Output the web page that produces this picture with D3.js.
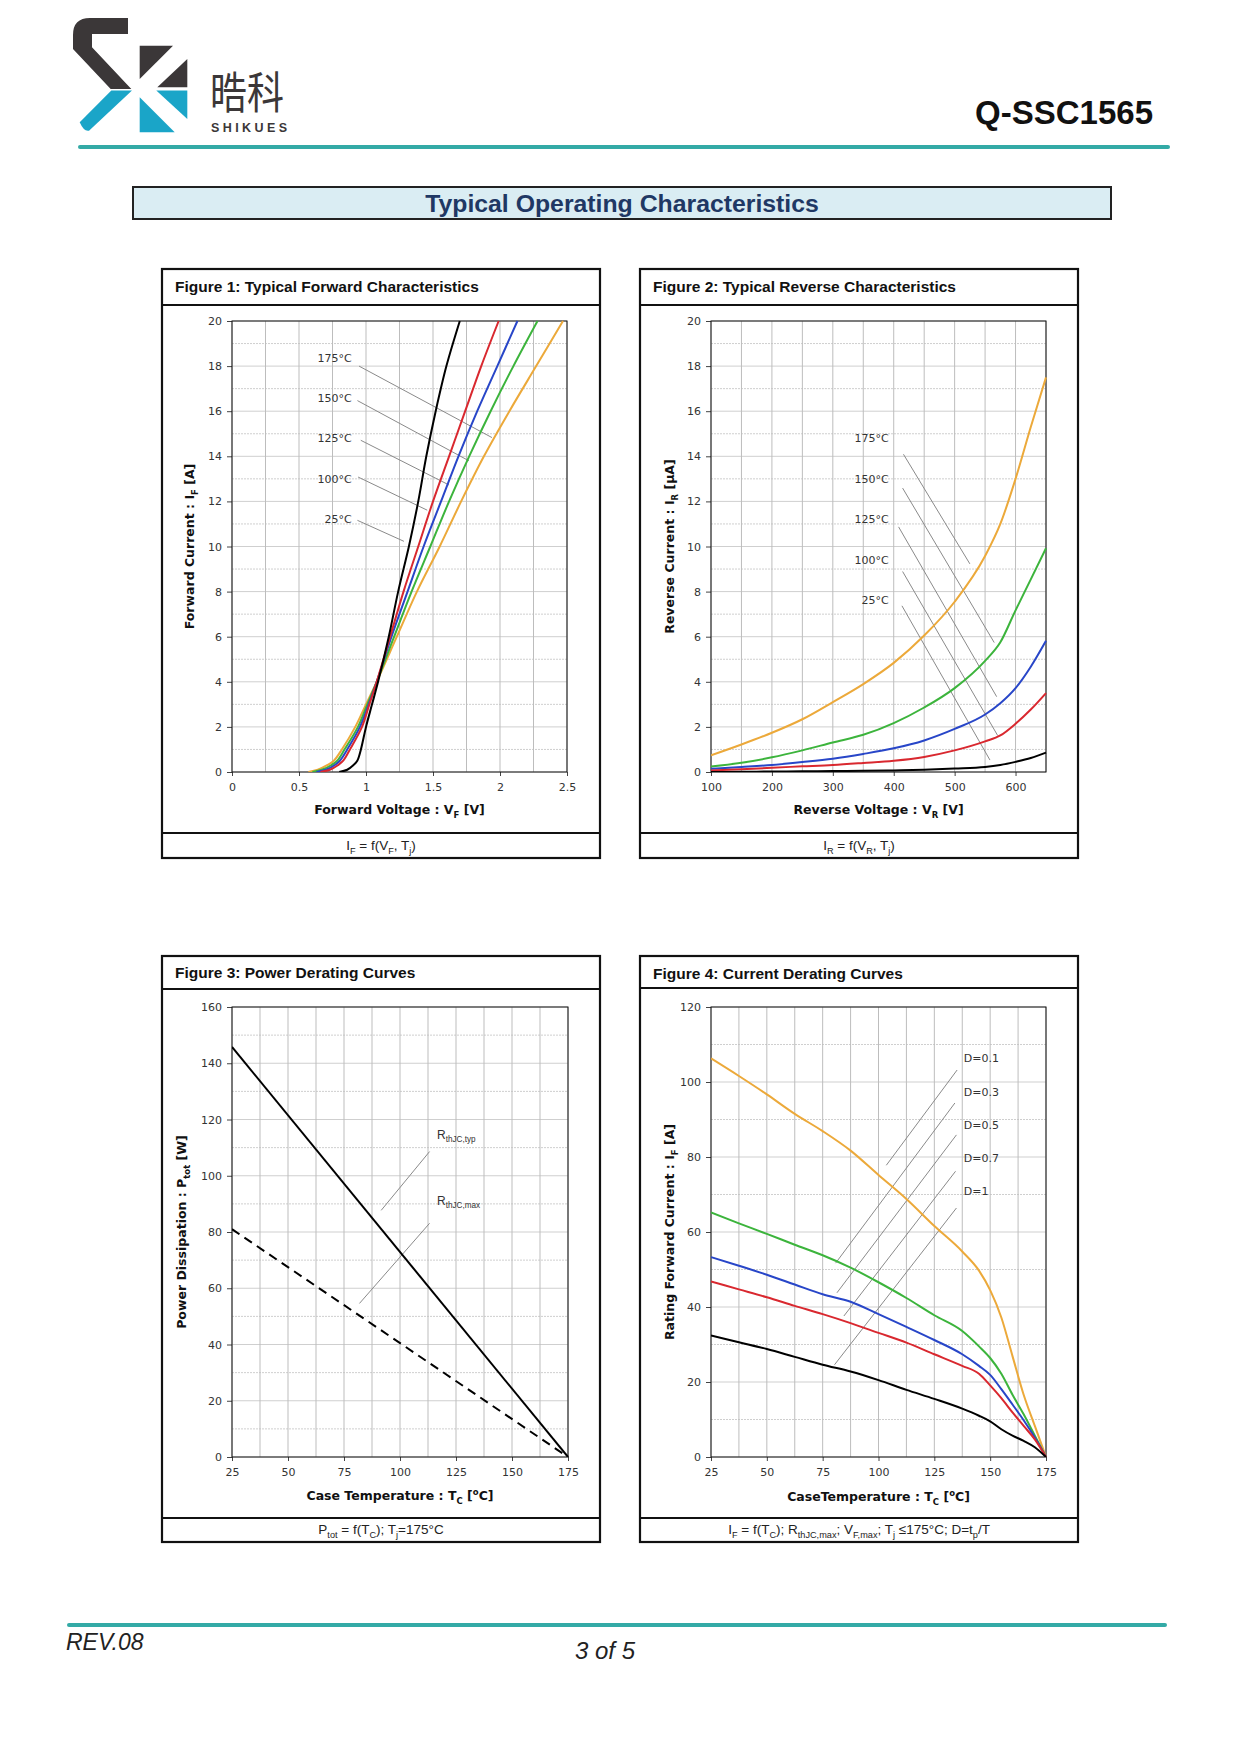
<!DOCTYPE html>
<html>
<head>
<meta charset="utf-8">
<script src="https://cdn.jsdelivr.net/npm/d3@7"></script>
<style>
    body { margin: 0; background: #fff; }
</style>
</head>
<body>
<div id="page"></div>
<script>

/* * * * * * * * * * * * * *
*     chart data           *
* * * * * * * * * * * * * */

// figure 1 : forward characteristics (current grid shared by all temperatures)
const fwdCurrent = [0, 0.1, 0.3, 0.5, 1, 2, 3, 4, 6, 8, 10, 12, 14, 16, 18, 20];
const fwdVolt175 = [0.57, 0.64, 0.71, 0.76, 0.82, 0.92, 1.00, 1.08, 1.23, 1.38, 1.55, 1.71, 1.88, 2.07, 2.27, 2.47];
const fwdVolt150 = [0.60, 0.67, 0.74, 0.785, 0.84, 0.94, 1.01, 1.08, 1.21, 1.34, 1.48, 1.62, 1.77, 1.93, 2.10, 2.28];
const fwdVolt125 = [0.63, 0.70, 0.765, 0.805, 0.86, 0.955, 1.02, 1.08, 1.19, 1.31, 1.43, 1.56, 1.69, 1.83, 1.98, 2.13];
const fwdVolt100 = [0.66, 0.73, 0.79, 0.83, 0.88, 0.97, 1.025, 1.08, 1.18, 1.28, 1.39, 1.50, 1.62, 1.74, 1.86, 1.99];
const fwdVolt25 = [0.80, 0.86, 0.905, 0.935, 0.962, 1.00, 1.045, 1.09, 1.17, 1.24, 1.32, 1.39, 1.45, 1.52, 1.60, 1.70];
const fwdLabels = ["175°C", "150°C", "125°C", "100°C", "25°C"];
const fwdLabelCurrent = [18.36, 16.59, 14.80, 12.99, 11.21];
const fwdLeaders = [[0.948, 18.0, 1.94, 14.83], [0.936, 16.47, 1.768, 13.80], [0.961, 14.71, 1.619, 12.73],
                    [0.941, 13.08, 1.457, 11.61], [0.936, 11.16, 1.283, 10.23]];
const fwdXTicks = [0, 0.5, 1, 1.5, 2, 2.5];

// figure 2 : reverse characteristics
const revVoltage = [100, 150, 200, 250, 300, 350, 400, 450, 500, 550, 575, 600, 625, 650];
const revCur175 = [0.74, 1.22, 1.74, 2.34, 3.10, 3.90, 4.84, 6.05, 7.55, 9.58, 11.0, 13.0, 15.3, 17.5];
const revCur150 = [0.24, 0.41, 0.65, 0.96, 1.31, 1.65, 2.17, 2.86, 3.72, 4.93, 5.75, 7.17, 8.54, 9.92];
const revCur125 = [0.14, 0.22, 0.31, 0.44, 0.59, 0.80, 1.05, 1.40, 1.91, 2.55, 3.05, 3.72, 4.67, 5.82];
const revCur100 = [0.07, 0.12, 0.19, 0.25, 0.31, 0.40, 0.50, 0.67, 0.96, 1.36, 1.62, 2.14, 2.77, 3.50];
const revCur25 = [0.00, 0.01, 0.02, 0.03, 0.04, 0.05, 0.07, 0.10, 0.15, 0.22, 0.31, 0.45, 0.62, 0.86];
const revLabels = ["175°C", "150°C", "125°C", "100°C", "25°C"];
const revLabelCurrent = [14.80, 12.99, 11.21, 9.41, 7.63];
const revLeaders = [[416, 14.09, 525, 9.23], [414.6, 12.59, 565, 5.74], [408, 10.87, 569, 3.34],
                    [414.6, 8.89, 570.6, 1.62], [413.5, 7.37, 558, 0.53]];
const revXTicks = [100, 200, 300, 400, 500, 600];

// figure 3 : power derating
const pwrTemp = [25, 175];
const pwrTyp = [145.8, 0];
const pwrMax = [81.0, 0];
const pwrLabels = [["R", "thJC,typ"], ["R", "thJC,max"]];
const pwrLabelPower = [113.1, 89.7];
const pwrLeaders = [[113.2, 108.6, 91.6, 87.7], [113.2, 83.1, 81.9, 54.6]];

// figure 4 : current derating
const curTemp = [25, 37.5, 50, 62.5, 75, 87.5, 100, 112.5, 125, 137.5, 145, 150, 155, 160, 165, 170, 175];
const curD01 = [106.3, 101.6, 96.7, 91.5, 86.9, 81.7, 75.2, 68.8, 61.6, 54.8, 49.7, 44.5, 37.2, 26.9, 16.6, 8.3, 0];
const curD03 = [65.2, 62.3, 59.5, 56.6, 53.8, 50.5, 46.6, 42.4, 37.8, 33.6, 29.5, 26.4, 22.2, 16.6, 11.4, 5.7, 0];
const curD05 = [53.3, 51.0, 48.6, 46.0, 43.4, 41.4, 38.1, 34.7, 31.2, 27.4, 24.3, 21.9, 18.1, 14.0, 9.8, 5.2, 0];
const curD07 = [46.8, 44.7, 42.6, 40.3, 38.1, 35.7, 33.1, 30.5, 27.4, 24.3, 22.2, 19.1, 15.7, 11.9, 8.3, 4.7, 0];
const curD1 = [32.4, 30.6, 28.8, 26.7, 24.6, 22.8, 20.5, 17.9, 15.5, 12.9, 11.0, 9.5, 7.4, 5.7, 4.3, 2.6, 0];
const curLabels = ["D=0.1", "D=0.3", "D=0.5", "D=0.7", "D=1"];
const curLabelCurrent = [106.3, 97.2, 88.4, 79.7, 70.9];
const curLeaders = [[135.2, 103.2, 103.5, 77.8], [134.2, 94.4, 80.8, 51.7], [134.9, 85.9, 81.4, 43.8],
                    [134.5, 76.2, 84.5, 37.6], [134.9, 66.4, 80.3, 24.6]];
const tempTicks = [25, 50, 75, 100, 125, 150, 175];

// series colours, hottest / shortest duty first
const seriesColors = ["#eca93a", "#3cb43c", "#2846c8", "#d9282f", "#000000"];


// write text with sub / superscript parts, parts = [[string, mode]]
function addRich(textSel, parts, fs) {
    let shift = 0;
    parts.forEach(([str, mode]) => {
        let target = mode === "sub" ? fs * 0.28 : (mode === "sup" ? -fs * 0.38 : 0);
        let ts = textSel.append("tspan").text(str).attr("dy", target - shift);
        if (mode) ts.attr("font-size", fs * 0.68);
        shift = target;
    });
}


/* * * * * * * * * * * * * *
*        PanelVis          *
* * * * * * * * * * * * * */

class PanelVis {

    constructor(parentSvg, config, series, notes) {
        this.parentSvg = parentSvg;
        this.config = config;
        this.series = series;
        this.notes = notes;
        this.initVis();
    }

    initVis() {
        let vis = this;
        let c = vis.config;

        vis.g = vis.parentSvg.append("g").attr("class", "panel");

        // outer box with header and footer rows
        vis.g.append("rect")
            .attr("x", c.box[0]).attr("y", c.box[1])
            .attr("width", c.box[2] - c.box[0]).attr("height", c.box[3] - c.box[1])
            .attr("fill", "#fff").attr("stroke", "#111").attr("stroke-width", 2.2);
        [c.headerY, c.footerY].forEach(yy => {
            vis.g.append("line")
                .attr("x1", c.box[0]).attr("x2", c.box[2]).attr("y1", yy).attr("y2", yy)
                .attr("stroke", "#111").attr("stroke-width", 2.2);
        });

        vis.g.append("text")
            .attr("x", c.box[0] + 13).attr("y", c.titleY)
            .attr("font-family", "Liberation Sans, Arial, sans-serif")
            .attr("font-weight", "bold").attr("font-size", 15.5).attr("fill", "#111")
            .text(c.title);

        let foot = vis.g.append("text")
            .attr("x", (c.box[0] + c.box[2]) / 2).attr("y", c.footY)
            .attr("text-anchor", "middle")
            .attr("font-family", "Liberation Sans, Arial, sans-serif")
            .attr("font-size", 13.5).attr("fill", "#222");
        addRich(foot, c.footer, 13.5);

        // scales
        vis.x = d3.scaleLinear().domain(c.xDomain).range([c.plot[0], c.plot[2]]);
        vis.y = d3.scaleLinear().domain(c.yDomain).range([c.plot[3], c.plot[1]]);

        // grid
        let xs = d3.range(c.xDomain[0], c.xDomain[1] + 1e-9, c.xStep);
        let ys = d3.range(c.yDomain[0], c.yDomain[1] + 1e-9, c.yStep);
        vis.g.append("g").selectAll("line").data(ys).enter().append("line")
            .attr("x1", c.plot[0]).attr("x2", c.plot[2])
            .attr("y1", d => vis.y(d)).attr("y2", d => vis.y(d))
            .attr("stroke", "#cfcfcf").attr("stroke-width", 1)
            .attr("stroke-dasharray", (d, i) => i % 2 ? "2,1" : null);
        vis.g.append("g").selectAll("line").data(xs).enter().append("line")
            .attr("x1", d => vis.x(d)).attr("x2", d => vis.x(d))
            .attr("y1", c.plot[1]).attr("y2", c.plot[3])
            .attr("stroke", "#bdbdbd").attr("stroke-width", 1);

        // axes
        vis.yAxis = d3.axisLeft(vis.y).tickValues(c.yTicks).tickSize(5).tickPadding(5).tickFormat(d => d);
        vis.xAxis = d3.axisBottom(vis.x).tickValues(c.xTicks).tickSize(4).tickPadding(7).tickFormat(d => d);

        vis.g.append("g").attr("transform", `translate(${c.plot[0]},0)`).call(vis.yAxis);
        vis.g.append("g").attr("transform", `translate(0,${c.plot[3]})`).call(vis.xAxis);
        vis.g.selectAll(".domain").remove();
        vis.g.selectAll(".tick line").attr("stroke", "#444");
        vis.g.selectAll(".tick text")
            .attr("font-family", "DejaVu Sans, Verdana, sans-serif")
            .attr("font-size", 11).attr("fill", "#333");

        // plot frame
        vis.g.append("rect")
            .attr("x", c.plot[0]).attr("y", c.plot[1])
            .attr("width", c.plot[2] - c.plot[0]).attr("height", c.plot[3] - c.plot[1])
            .attr("fill", "none").attr("stroke", "#111").attr("stroke-width", 1);

        // axis titles
        let xt = vis.g.append("text")
            .attr("x", (c.plot[0] + c.plot[2]) / 2).attr("y", c.xTitleY)
            .attr("text-anchor", "middle")
            .attr("font-family", "DejaVu Sans, Verdana, sans-serif")
            .attr("font-weight", "bold").attr("font-size", 12.5).attr("fill", "#111");
        addRich(xt, c.xTitle, 12.5);

        let yt = vis.g.append("text")
            .attr("transform", `translate(${c.yTitleX},${(c.plot[1] + c.plot[3]) / 2}) rotate(-90)`)
            .attr("text-anchor", "middle")
            .attr("font-family", "DejaVu Sans, Verdana, sans-serif")
            .attr("font-weight", "bold").attr("font-size", 12.5).attr("fill", "#111");
        addRich(yt, c.yTitle, 12.5);

        vis.g.append("clipPath").attr("id", c.id + "-clip")
            .append("rect")
            .attr("x", c.plot[0]).attr("y", c.plot[1] - 2)
            .attr("width", c.plot[2] - c.plot[0] + 2).attr("height", c.plot[3] - c.plot[1] + 2);

        vis.drawNotes();
        vis.drawSeries();
    }

    drawNotes() {
        let vis = this;
        let n = vis.notes;

        // leader lines
        vis.g.append("g").selectAll("line").data(n.leaders).enter().append("line")
            .attr("x1", d => vis.x(d[0])).attr("y1", d => vis.y(d[1]))
            .attr("x2", d => vis.x(d[2])).attr("y2", d => vis.y(d[3]))
            .attr("stroke", "#8a8a8a").attr("stroke-width", 1);

        // labels
        n.labels.forEach((lab, i) => {
            let t = vis.g.append("text")
                .attr("x", vis.x(n.labelX)).attr("y", vis.y(n.labelY[i]))
                .attr("dy", "0.35em")
                .attr("text-anchor", n.anchor)
                .attr("font-family", n.font)
                .attr("font-size", n.size).attr("fill", "#333");
            if (Array.isArray(lab)) addRich(t, [[lab[0], ""], [lab[1], "sub"]], n.size);
            else t.text(lab);
        });
    }

    drawSeries() {
        let vis = this;

        let line = d3.line()
            .x(d => vis.x(d[0]))
            .y(d => vis.y(d[1]))
            .curve(vis.config.curve);

        vis.g.append("g")
            .attr("clip-path", `url(#${vis.config.id}-clip)`)
            .selectAll("path").data(vis.series).enter().append("path")
            .attr("d", s => line(d3.zip(s.x, s.y)))
            .attr("fill", "none")
            .attr("stroke", s => s.color)
            .attr("stroke-width", 2)
            .attr("stroke-dasharray", s => s.dash || null)
            .attr("stroke-linejoin", "round");
    }
}


/* * * * * * * * * * * * * *
*        page              *
* * * * * * * * * * * * * */

const svg = d3.select("#page").append("svg")
    .attr("width", 1241).attr("height", 1755)
    .style("display", "block");

// logo
const logoDark = "#3b3738", logoTeal = "#1aa5c8";
const logo = svg.append("g").attr("class", "logo");
logo.append("path")
    .attr("d", "M128,18 L90,18 Q73,18 73,35 L73,49 L110.7,89 L131.3,89 L92,47.3 L92,34 L128,34 Z")
    .attr("fill", logoDark);
logo.append("path")
    .attr("d", "M111.3,90.5 L132,90.5 L89,130.7 Q84,132 79.7,122.3 Z")
    .attr("fill", logoTeal);
logo.append("path").attr("d", "M139.7,45.7 L173,45.7 L139.7,79 Z").attr("fill", logoDark);
logo.append("path").attr("d", "M187.3,59 L187.3,87.3 L157.3,87.3 Z").attr("fill", logoDark);
logo.append("path").attr("d", "M139.7,97.3 L139.7,132.3 L174.7,132.3 Z").attr("fill", logoTeal);
logo.append("path").attr("d", "M156.3,90.5 L187.3,90.5 L187.3,119 Z").attr("fill", logoTeal);

svg.append("text")
    .attr("x", 210).attr("y", 109)
    .attr("font-family", "Noto Sans CJK SC, sans-serif")
    .attr("font-size", 44).attr("fill", logoDark)
    .attr("textLength", 74).attr("lengthAdjust", "spacingAndGlyphs")
    .text("晧科");
svg.append("text")
    .attr("x", 211).attr("y", 132)
    .attr("font-family", "Liberation Sans, Arial, sans-serif")
    .attr("font-weight", "bold").attr("font-size", 12.5).attr("fill", logoDark)
    .attr("textLength", 76).attr("lengthAdjust", "spacing")
    .text("SHIKUES");

svg.append("text")
    .attr("x", 1153).attr("y", 124)
    .attr("text-anchor", "end")
    .attr("font-family", "Liberation Sans, Arial, sans-serif")
    .attr("font-weight", "bold").attr("font-size", 33).attr("fill", "#111")
    .text("Q-SSC1565");

svg.append("rect").attr("x", 78).attr("y", 145).attr("width", 1092).attr("height", 4)
    .attr("rx", 2).attr("fill", "#33aaa6");

// section title
svg.append("rect").attr("x", 133).attr("y", 187).attr("width", 978).attr("height", 32)
    .attr("fill", "#daedf3").attr("stroke", "#222").attr("stroke-width", 2);
svg.append("text")
    .attr("x", 622).attr("y", 212)
    .attr("text-anchor", "middle")
    .attr("font-family", "Liberation Sans, Arial, sans-serif")
    .attr("font-weight", "bold").attr("font-size", 24.8).attr("fill", "#1f3864")
    .text("Typical Operating Characteristics");

// figure 1
new PanelVis(svg, {
    id: "fig1",
    box: [162, 269, 600, 858], headerY: 305, footerY: 833, titleY: 292, footY: 850,
    plot: [232, 321, 567, 772],
    xDomain: [0, 2.5], yDomain: [0, 20], xStep: 0.25, yStep: 1,
    xTicks: fwdXTicks, yTicks: d3.range(0, 21, 2),
    curve: d3.curveCatmullRom.alpha(0.5),
    title: "Figure 1: Typical Forward Characteristics",
    xTitle: [["Forward Voltage : V", ""], ["F", "sub"], [" [V]", ""]], xTitleY: 814,
    yTitle: [["Forward Current : I", ""], ["F", "sub"], [" [A]", ""]], yTitleX: 194,
    footer: [["I", ""], ["F", "sub"], [" = f(V", ""], ["F", "sub"], [", T", ""], ["j", "sub"], [")", ""]]
}, [
    {x: fwdVolt175, y: fwdCurrent, color: seriesColors[0]},
    {x: fwdVolt150, y: fwdCurrent, color: seriesColors[1]},
    {x: fwdVolt125, y: fwdCurrent, color: seriesColors[2]},
    {x: fwdVolt100, y: fwdCurrent, color: seriesColors[3]},
    {x: fwdVolt25, y: fwdCurrent, color: seriesColors[4]}
], {
    labels: fwdLabels, labelX: 0.894, labelY: fwdLabelCurrent, leaders: fwdLeaders,
    anchor: "end", font: "DejaVu Sans, Verdana, sans-serif", size: 11
});

// figure 2
new PanelVis(svg, {
    id: "fig2",
    box: [640, 269, 1078, 858], headerY: 305, footerY: 833, titleY: 292, footY: 850,
    plot: [711, 321, 1046, 772],
    xDomain: [100, 650], yDomain: [0, 20], xStep: 50, yStep: 1,
    xTicks: revXTicks, yTicks: d3.range(0, 21, 2),
    curve: d3.curveMonotoneX,
    title: "Figure 2: Typical Reverse Characteristics",
    xTitle: [["Reverse Voltage : V", ""], ["R", "sub"], [" [V]", ""]], xTitleY: 814,
    yTitle: [["Reverse Current : I", ""], ["R", "sub"], [" [µA]", ""]], yTitleX: 674,
    footer: [["I", ""], ["R", "sub"], [" = f(V", ""], ["R", "sub"], [", T", ""], ["j", "sub"], [")", ""]]
}, [
    {x: revVoltage, y: revCur175, color: seriesColors[0]},
    {x: revVoltage, y: revCur150, color: seriesColors[1]},
    {x: revVoltage, y: revCur125, color: seriesColors[2]},
    {x: revVoltage, y: revCur100, color: seriesColors[3]},
    {x: revVoltage, y: revCur25, color: seriesColors[4]}
], {
    labels: revLabels, labelX: 391.7, labelY: revLabelCurrent, leaders: revLeaders,
    anchor: "end", font: "DejaVu Sans, Verdana, sans-serif", size: 11
});

// figure 3
new PanelVis(svg, {
    id: "fig3",
    box: [162, 956, 600, 1542], headerY: 989, footerY: 1518, titleY: 978, footY: 1534,
    plot: [232, 1007, 568, 1457],
    xDomain: [25, 175], yDomain: [0, 160], xStep: 12.5, yStep: 10,
    xTicks: tempTicks, yTicks: d3.range(0, 161, 20),
    curve: d3.curveLinear,
    title: "Figure 3: Power Derating Curves",
    xTitle: [["Case Temperature : T", ""], ["C", "sub"], [" [", ""], ["o", "sup"], ["C]", ""]], xTitleY: 1500,
    yTitle: [["Power Dissipation : P", ""], ["tot", "sub"], [" [W]", ""]], yTitleX: 186,
    footer: [["P", ""], ["tot", "sub"], [" = f(T", ""], ["C", "sub"], ["); T", ""], ["j", "sub"], ["=175°C", ""]]
}, [
    {x: pwrTemp, y: pwrTyp, color: "#000"},
    {x: pwrTemp, y: pwrMax, color: "#000", dash: "9,6"}
], {
    labels: pwrLabels, labelX: 116.5, labelY: pwrLabelPower, leaders: pwrLeaders,
    anchor: "start", font: "Liberation Sans, Arial, sans-serif", size: 12
});

// figure 4
new PanelVis(svg, {
    id: "fig4",
    box: [640, 956, 1078, 1542], headerY: 988, footerY: 1518, titleY: 979, footY: 1534,
    plot: [711, 1007, 1046, 1457],
    xDomain: [25, 175], yDomain: [0, 120], xStep: 12.5, yStep: 10,
    xTicks: tempTicks, yTicks: d3.range(0, 121, 20),
    curve: d3.curveMonotoneX,
    title: "Figure 4: Current Derating Curves",
    xTitle: [["CaseTemperature : T", ""], ["C", "sub"], [" [", ""], ["o", "sup"], ["C]", ""]], xTitleY: 1501,
    yTitle: [["Rating Forward Current : I", ""], ["F", "sub"], [" [A]", ""]], yTitleX: 674,
    footer: [["I", ""], ["F", "sub"], [" = f(T", ""], ["C", "sub"], ["); R", ""], ["thJC,max", "sub"],
             ["; V", ""], ["F,max", "sub"], ["; T", ""], ["j", "sub"], [" ≤175°C; D=t", ""], ["p", "sub"], ["/T", ""]]
}, [
    {x: curTemp, y: curD01, color: seriesColors[0]},
    {x: curTemp, y: curD03, color: seriesColors[1]},
    {x: curTemp, y: curD05, color: seriesColors[2]},
    {x: curTemp, y: curD07, color: seriesColors[3]},
    {x: curTemp, y: curD1, color: seriesColors[4]}
], {
    labels: curLabels, labelX: 138.2, labelY: curLabelCurrent, leaders: curLeaders,
    anchor: "start", font: "DejaVu Sans, Verdana, sans-serif", size: 11
});

// page footer
svg.append("rect").attr("x", 67).attr("y", 1623).attr("width", 1100).attr("height", 4)
    .attr("rx", 2).attr("fill", "#33aaa6");
svg.append("text")
    .attr("x", 66).attr("y", 1650)
    .attr("font-family", "Liberation Sans Narrow, Liberation Sans, Arial, sans-serif")
    .attr("font-style", "italic").attr("font-size", 23).attr("fill", "#222")
    .text("REV.08");
svg.append("text")
    .attr("x", 605).attr("y", 1659)
    .attr("text-anchor", "middle")
    .attr("font-family", "Liberation Sans Narrow, Liberation Sans, Arial, sans-serif")
    .attr("font-style", "italic").attr("font-size", 24).attr("fill", "#222")
    .text("3 of 5");

</script>
</body>
</html>
